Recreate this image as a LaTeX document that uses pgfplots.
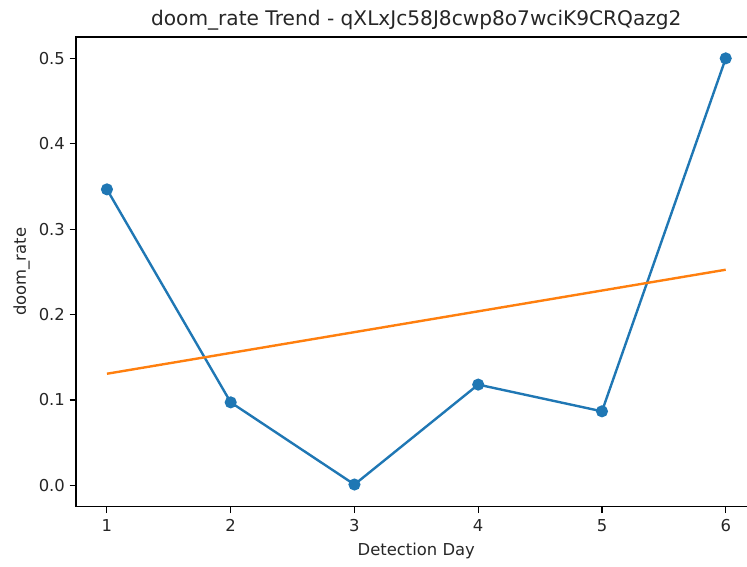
\documentclass[border=0pt]{standalone}
\usepackage{pgfplots}
\pgfplotsset{compat=1.18}
\usepackage{fontspec}
\setmainfont{DejaVu Sans}
\definecolor{mplblue}{HTML}{1F77B4}
\definecolor{mplorange}{HTML}{FF7F0E}
\begin{document}
\begin{tikzpicture}
\path[use as bounding box] (-57pt,-44.5pt) rectangle (503.25pt,380.05pt);
\clip (-57pt,-44.5pt) rectangle (503.25pt,380.05pt);
\begin{axis}[
  at={(0pt,0pt)}, anchor=south west,
  scale only axis, width=510.5pt, height=352.3pt,
  xmin=0.75, xmax=6.25, ymin=-0.025, ymax=0.525,
  xtick={1,2,3,4,5,6},
  ytick={0,0.1,0.2,0.3,0.4,0.5},
  yticklabel style={/pgf/number format/.cd, fixed, fixed zerofill, precision=1},
  /pgf/number format/assume math mode=true,
  tick align=outside, xtick pos=bottom, ytick pos=left,
  major tick length=4.8pt,
  every tick/.style={black, line width=0.8pt},
  axis line style={line width=0.8pt},
  ticklabel style={font=\fontsize{12.3}{14}\selectfont, text=black!85},
  xticklabel style={yshift=-1pt},
  title={doom\_rate Trend - qXLxJc58J8cwp8o7wciK9CRQazg2},
  title style={font=\fontsize{15.1}{17}\selectfont, yshift=-4.5pt, text=black!85},
  xlabel={Detection Day}, ylabel={doom\_rate},
  label style={font=\fontsize{12.3}{14}\selectfont, text=black!85},
  xlabel style={yshift=-2pt},
  ylabel style={yshift=0pt},
  clip=false,
]
\addplot[mplblue, line width=1.8pt, mark=*, mark size=3.6pt, mark options={solid, fill=mplblue, draw=mplblue}]
  coordinates {(1,0.3466) (2,0.0972) (3,0.001) (4,0.118) (5,0.0867) (6,0.5)};
\addplot[mplorange, line width=1.8pt]
  coordinates {(1,0.1307) (6,0.2525)};
\end{axis}
\end{tikzpicture}
\end{document}
